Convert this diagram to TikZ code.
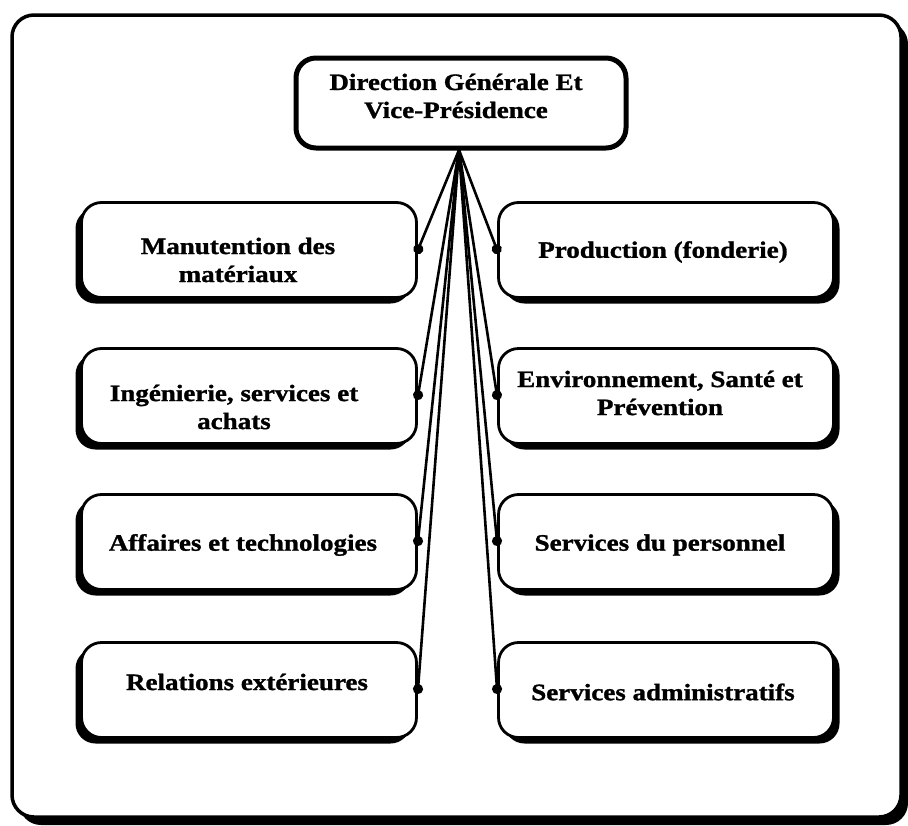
\documentclass[tikz,border=0pt]{standalone}
\usepackage{fontspec}
\setmainfont{Liberation Serif}[FakeStretch=1.15, BoldFeatures={FakeBold=1.2}]
\usetikzlibrary{arrows.meta,shadows}
\begin{document}
\begin{tikzpicture}[x=1pt,y=-1pt,
  boxtext/.style={font=\fontsize{23.5}{28}\selectfont\bfseries, align=center, inner sep=0pt},
  unitbox/.style={draw, line width=2.8pt, rounded corners=20pt, fill=white,
    minimum width=335pt, minimum height=95pt, inner sep=0pt},
  leftbox/.style={unitbox, drop shadow={shadow xshift=-6pt, shadow yshift=-6pt, fill=black, opacity=1}},
  rightbox/.style={unitbox, drop shadow={shadow xshift=6pt, shadow yshift=-6pt, fill=black, opacity=1}},
  headbox/.style={draw, line width=5pt, rounded corners=20pt, fill=white,
    minimum width=330pt, minimum height=90pt, inner sep=0pt},
  conn/.style={line width=2.6pt, -{Circle[length=10pt]}, shorten >=-4pt},
]
\useasboundingbox (0,0) rectangle (908,825);
% outer frame with its shadow
\fill[black, rounded corners=22pt] (19,22) rectangle (908,825);
\draw[fill=white, line width=3.5pt, rounded corners=22pt] (12,15) rectangle (901,817);

% head of the organisation
\node[headbox] (head) at (461,103) {};
\node[boxtext] (headt) at (456,96) {Direction Générale Et\\Vice-Présidence};
\coordinate (apex) at (459,150);

% departments, left column
\node[leftbox] (m1) at (249,250) {};
\node[leftbox] (m2) at (249,396) {};
\node[leftbox] (m3) at (249,542) {};
\node[leftbox] (m4) at (249,690) {};
\node[boxtext] (m1t) at (238,260) {Manutention des\\matériaux};
\node[boxtext] (m2t) at (234,407) {Ingénierie, services et\\achats};
\node[boxtext] (m3t) at (243,545) {Affaires et technologies};
\node[boxtext] (m4t) at (247,682) {Relations extérieures};

% departments, right column
\node[rightbox] (p1) at (666,250) {};
\node[rightbox] (p2) at (666,396) {};
\node[rightbox] (p3) at (666,542) {};
\node[rightbox] (p4) at (666,690) {};
\node[boxtext] (p1t) at (663,252) {Production (fonderie)};
\node[boxtext] (p2t) at (660,393) {Environnement, Santé et\\Prévention};
\node[boxtext] (p3t) at (660,545) {Services du personnel};
\node[boxtext] (p4t) at (663,692) {Services administratifs};

% reporting lines
\foreach \n in {m1,m2,m3,m4} \draw[conn] (apex) -- (\n.east);
\foreach \n in {p1,p2,p3,p4} \draw[conn] (apex) -- (\n.west);
\end{tikzpicture}
\end{document}
